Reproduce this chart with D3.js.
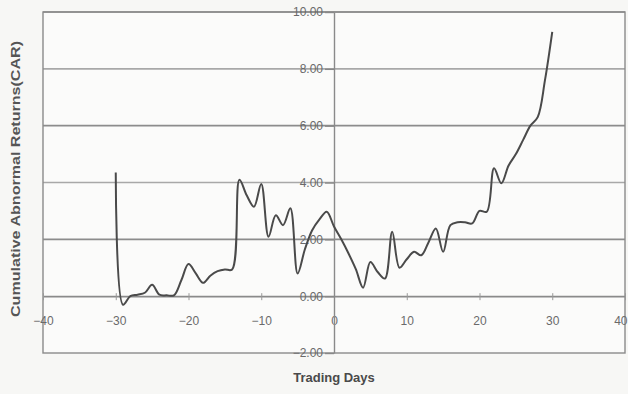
<!DOCTYPE html>
<html>
<head>
<meta charset="utf-8">
<script src="https://cdn.jsdelivr.net/npm/d3@7"></script>
<style>
  html, body { margin: 0; padding: 0; background: #f7f7f5; }
  svg { display: block; }
  text { font-family: "Liberation Sans", Arial, sans-serif; }
</style>
</head>
<body>
<svg id="chart" width="628" height="394"></svg>
<script>
const days = d3.range(-30, 31);
const car = [
  4.35, -0.30, 0.00, 0.05, 0.12, 0.40, 0.05, 0.03, 0.03, 0.55,
  1.13, 0.80, 0.47, 0.72, 0.88, 0.94, 0.94, 4.10, 3.55, 3.15,
  3.95, 2.09, 2.85, 2.50, 3.09, 0.80, 1.65, 2.32, 2.70, 2.97,
  2.45, 2.00, 1.50, 0.95, 0.30, 1.20, 0.85, 0.62, 2.27, 1.00,
  1.30, 1.56, 1.44, 1.90, 2.38, 1.56, 2.50, 2.60, 2.60, 2.56,
  3.00, 2.97, 4.50, 3.97, 4.60, 5.00, 5.50, 6.00, 6.30, 7.60, 9.30
];
const xTicks = [-40, -30, -20, -10, 0, 10, 20, 30, 40];
const yTicks = [-2, 0, 2, 4, 6, 8, 10];
const xTitle = "Trading Days";
const yTitle = "Cumulative Abnormal Returns(CAR)";

const W = 628, H = 394;
const m = {left: 43, right: 3, top: 12, bottom: 41};
const svg = d3.select("#chart");

const x = d3.scaleLinear().domain([-40, 40]).range([m.left, W - m.right]);
const y = d3.scaleLinear().domain([-2, 10]).range([H - m.bottom, m.top]);

// plot background
svg.append("rect")
  .attr("x", x(-40)).attr("y", y(10))
  .attr("width", x(40) - x(-40)).attr("height", y(-2) - y(10))
  .attr("fill", "#fbfbfa");

// gridlines
svg.append("g").selectAll("line")
  .data(yTicks.filter(d => d > 0))
  .join("line")
  .attr("x1", x(-40)).attr("x2", x(40))
  .attr("y1", d => y(d)).attr("y2", d => y(d))
  .attr("stroke", d => (d === 8 || d === 4) ? "#a8a8a8" : "#8c8c8c")
  .attr("stroke-width", 1.6);

// border
svg.append("rect")
  .attr("x", x(-40)).attr("y", y(10))
  .attr("width", x(40) - x(-40)).attr("height", y(-2) - y(10))
  .attr("fill", "none").attr("stroke", "#8a8a8a").attr("stroke-width", 1.4);

// x axis at y = 0
const xAxis = svg.append("g")
  .attr("transform", `translate(0,${y(0)})`)
  .call(d3.axisBottom(x).tickValues(xTicks).tickSize(4).tickSizeOuter(0).tickFormat(d3.format("d")));
xAxis.select(".domain").attr("stroke", "#8a8a8a").attr("stroke-width", 1.6);
xAxis.selectAll(".tick line").attr("stroke", "#999").attr("y1", -3);
xAxis.selectAll(".tick text")
  .attr("y", 25).attr("dy", "0.32em")
  .attr("fill", "#6a6a6a").attr("font-size", 12)
  .attr("text-anchor", d => d === 40 ? "end" : "middle")
  .attr("x", d => d === 40 ? (W - 1) - x(40) : 0);

// y axis at x = 0
const yAxis = svg.append("g")
  .attr("transform", `translate(${x(0)},0)`)
  .call(d3.axisLeft(y).tickValues(yTicks).tickSize(9).tickSizeOuter(0).tickFormat(d3.format(".2f")));
yAxis.select(".domain").attr("stroke", "#8a8a8a").attr("stroke-width", 1.4);
yAxis.selectAll(".tick line").attr("stroke", "#888").attr("stroke-width", 1.4);
yAxis.selectAll(".tick text")
  .attr("x", -11)
  .attr("fill", "#6a6a6a").attr("font-size", 12);

// line
const line = d3.line()
  .x((d, i) => x(days[i]))
  .y(d => y(d))
  .curve(d3.curveCatmullRom.alpha(0.5));
svg.append("path")
  .datum(car)
  .attr("d", line)
  .attr("fill", "none")
  .attr("stroke", "#4a4a4a")
  .attr("stroke-width", 2)
  .attr("stroke-linejoin", "round");

// titles
svg.append("text")
  .attr("x", x(0)).attr("y", 382)
  .attr("text-anchor", "middle")
  .attr("font-size", 13).attr("font-weight", "bold")
  .attr("fill", "#4a4a4a")
  .text(xTitle);

svg.append("text")
  .attr("transform", `translate(20,179) rotate(-90)`)
  .attr("text-anchor", "middle")
  .attr("font-size", 12).attr("font-weight", "bold")
  .attr("fill", "#555")
  .attr("textLength", 276).attr("lengthAdjust", "spacingAndGlyphs")
  .text(yTitle);
</script>
</body>
</html>
